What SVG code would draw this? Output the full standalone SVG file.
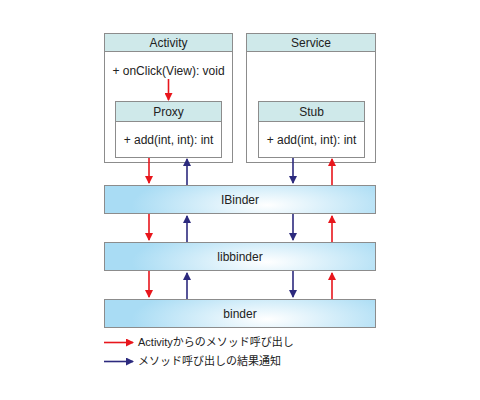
<svg xmlns="http://www.w3.org/2000/svg" width="480" height="400" viewBox="0 0 480 400">
<style>
text{font-family:"Liberation Sans",Arial,"Noto Sans CJK JP",sans-serif;font-size:12px;fill:#222;text-anchor:middle}
.box{fill:#fff;stroke:#8c8c8c;stroke-width:1}
.hdr{fill:#cfe9ea;stroke:#8c8c8c;stroke-width:1}
.bar{fill:url(#g);stroke:#8c8c8c;stroke-width:1}
.r{stroke:#e8161c;stroke-width:1.6;fill:none;marker-end:url(#ar)}
.b{stroke:#2c2a7e;stroke-width:1.6;fill:none;marker-end:url(#ab)}
.lg{text-anchor:start;font-size:11px}
</style>
<defs>
<radialGradient id="g" cx="0.6" cy="0.7" r="0.5" gradientTransform="translate(0.6 0.7) scale(1 2.5) translate(-0.6 -0.7)">
<stop offset="0" stop-color="#ffffff"/>
<stop offset="1" stop-color="#a9dcf4"/>
</radialGradient>
<marker id="ar" markerWidth="8" markerHeight="8" refX="7" refY="4" orient="auto" markerUnits="userSpaceOnUse"><path d="M0,0 L8,4 L0,8 Z" fill="#e8161c"/></marker>
<marker id="ab" markerWidth="8" markerHeight="8" refX="7" refY="4" orient="auto" markerUnits="userSpaceOnUse"><path d="M0,0 L8,4 L0,8 Z" fill="#2c2a7e"/></marker>
</defs>
<g id="activity">
<rect class="box" x="104.5" y="33.5" width="128" height="129"/>
<rect class="hdr" x="104.5" y="33.5" width="128" height="18"/>
<text x="168.5" y="47">Activity</text>
<text x="168.5" y="75">+ onClick(View): void</text>
</g>
<g id="proxy">
<rect class="box" x="115.5" y="101.5" width="106" height="56"/>
<rect class="hdr" x="115.5" y="101.5" width="106" height="20"/>
<text x="168.5" y="116">Proxy</text>
<text x="168.5" y="144">+ add(int, int): int</text>
</g>
<g id="service">
<rect class="box" x="246.5" y="33.5" width="129" height="129"/>
<rect class="hdr" x="246.5" y="33.5" width="129" height="18"/>
<text x="311" y="47">Service</text>
</g>
<g id="stub">
<rect class="box" x="258.5" y="101.5" width="106" height="56"/>
<rect class="hdr" x="258.5" y="101.5" width="106" height="20"/>
<text x="311.5" y="116">Stub</text>
<text x="311.5" y="144">+ add(int, int): int</text>
</g>
<g id="ibinder">
<rect class="bar" x="104.5" y="185.5" width="271" height="28"/>
<text x="240" y="204">IBinder</text>
</g>
<g id="libbinder">
<rect class="bar" x="104.5" y="242.5" width="271" height="28"/>
<text x="240" y="261">libbinder</text>
</g>
<g id="binder">
<rect class="bar" x="104.5" y="299.5" width="271" height="28"/>
<text x="240" y="318">binder</text>
</g>
<g id="connectors">
<line class="r" x1="168.5" y1="79" x2="168.5" y2="100"/>
<line class="r" x1="149" y1="158" x2="149" y2="183"/>
<line class="b" x1="187" y1="185" x2="187" y2="159"/>
<line class="b" x1="293" y1="158" x2="293" y2="183"/>
<line class="r" x1="332" y1="185" x2="332" y2="159"/>
<line class="r" x1="149" y1="214" x2="149" y2="240"/>
<line class="b" x1="187" y1="242" x2="187" y2="216"/>
<line class="b" x1="293" y1="214" x2="293" y2="240"/>
<line class="r" x1="332" y1="242" x2="332" y2="216"/>
<line class="r" x1="149" y1="271" x2="149" y2="297"/>
<line class="b" x1="187" y1="299" x2="187" y2="273"/>
<line class="b" x1="293" y1="271" x2="293" y2="297"/>
<line class="r" x1="332" y1="299" x2="332" y2="273"/>
</g>
<g id="legend">
<line class="r" x1="104" y1="342.5" x2="133" y2="342.5"/>
<text class="lg" x="138" y="346">Activityからのメソッド呼び出し</text>
<line class="b" x1="104" y1="361.5" x2="133" y2="361.5"/>
<text class="lg" x="138" y="365">メソッド呼び出しの結果通知</text>
</g>
</svg>
